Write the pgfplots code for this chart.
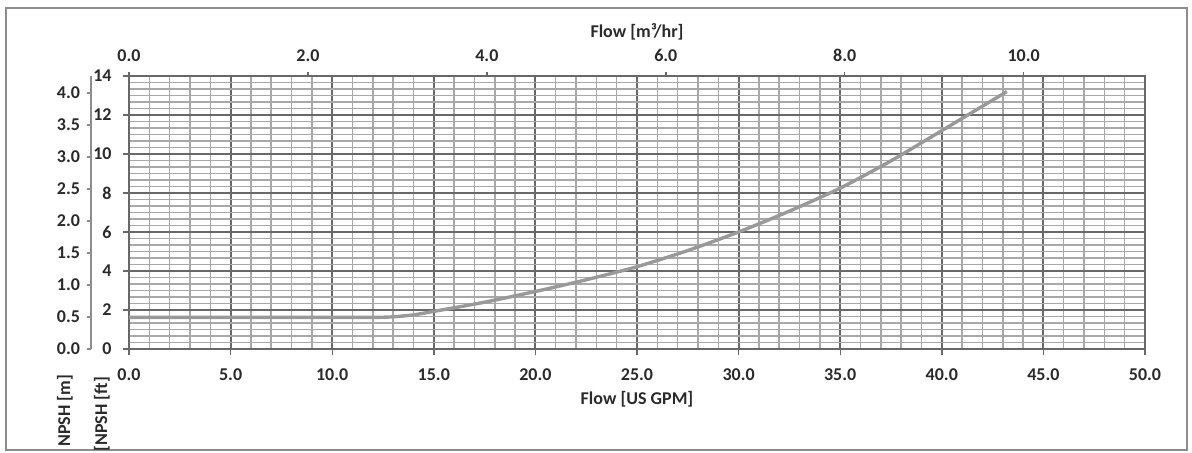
\documentclass[border=0pt]{standalone}
\usepackage{pgfplots}
\pgfplotsset{compat=1.18}
\usepackage{fontspec}
\setmainfont{Carlito}
\definecolor{majgrid}{HTML}{686868}
\definecolor{mingrid}{HTML}{A8A8A8}
\definecolor{curvec}{HTML}{999999}
\definecolor{txt}{HTML}{2A2A2A}
\definecolor{framec}{HTML}{8C8C8C}
\pgfplotsset{
  common/.style={
    scale only axis, height=136.5pt,
    anchor=south west,
    ticklabel style={font=\fontsize{9}{10}\selectfont\bfseries, text=txt},
    /pgf/number format/assume math mode=true,
    axis line style={-},
    every outer x axis line/.append style={-},
    every outer y axis line/.append style={-},
    tick align=outside,
  }
}
\begin{document}
\begin{tikzpicture}[x=1pt,y=1pt]
\useasboundingbox (0,0) rectangle (596,226);
\draw[framec, line width=1pt] (3,0.8) rectangle (593.5,222);

% main axis: Flow [US GPM] vs NPSH [ft]
\begin{axis}[common, width=508pt, at={(64.5pt,51.5pt)},
  xmin=0, xmax=50, ymin=0, ymax=14,
  xtick={0,5,...,50}, ytick={0,2,...,14},
  minor x tick num=4, minor y tick num=5,
  grid=both,
  major grid style={majgrid, line width=1pt},
  minor grid style={mingrid, line width=0.75pt},
  axis line style={majgrid, line width=1pt},
  tick pos=left,
  major tick length=3.2pt, minor tick length=0pt,
  tick style={majgrid, line width=0.7pt},
  xticklabel style={yshift=-3pt, /pgf/number format/.cd, fixed, fixed zerofill, precision=1},
  yticklabel style={xshift=-2pt, /pgf/number format/.cd, fixed, precision=0},
]
\addplot[curvec, line width=1.7pt, smooth, tension=0.4] coordinates {
(0,1.62) (5,1.62) (10,1.62) (12,1.62) (13,1.65) (14,1.75) (15,1.93)
(17.5,2.40) (20,2.95) (22.5,3.55) (25,4.22) (27.5,5.05) (30,6.00)
(32.5,7.07) (35,8.25) (37.5,9.65) (40,11.20) (42,12.45) (43.2,13.20)
};
\end{axis}

% top axis: Flow [m3/hr]
\begin{axis}[common, width=508pt, at={(64.5pt,51.5pt)},
  xmin=0, xmax=11.35624, ymin=0, ymax=1,
  axis x line*=top, axis y line=none,
  xtick={0,2,...,10},
  major tick length=2pt, minor tick length=0pt,
  axis line style={majgrid, line width=1pt},
  tick style={majgrid, line width=0.7pt},
  xticklabel style={yshift=1.5pt, /pgf/number format/.cd, fixed, fixed zerofill, precision=1},
]
\addplot[draw=none] coordinates {(0,0)};
\end{axis}

% NPSH [m] axis
\begin{axis}[common, width=1pt, at={(45.5pt,51.5pt)},
  xmin=0, xmax=1, ymin=0, ymax=4.26720,
  axis y line*=left, axis x line=none,
  ytick={0,0.5,...,4},
  major tick length=2pt, minor tick length=0pt,
  axis line style={framec, line width=0.7pt},
  tick style={framec, line width=0.6pt},
  yticklabel style={/pgf/number format/.cd, fixed, fixed zerofill, precision=1},
]
\addplot[draw=none] coordinates {(0,0)};
\end{axis}

\node[font=\fontsize{9}{10}\selectfont\bfseries, text=txt] at (318.5,26.5) {Flow [US GPM]};
\node[font=\fontsize{9}{10}\selectfont\bfseries, text=txt] at (318.5,210) {Flow [m³/hr]};
\node[font=\fontsize{9}{10}\selectfont\bfseries, text=txt, rotate=90, anchor=east] at (32.5,42) {NPSH [m]};
\node[font=\fontsize{9}{10}\selectfont\bfseries, text=txt, rotate=90, anchor=east] at (51,41) {[NPSH [ft]};
\end{tikzpicture}
\end{document}
